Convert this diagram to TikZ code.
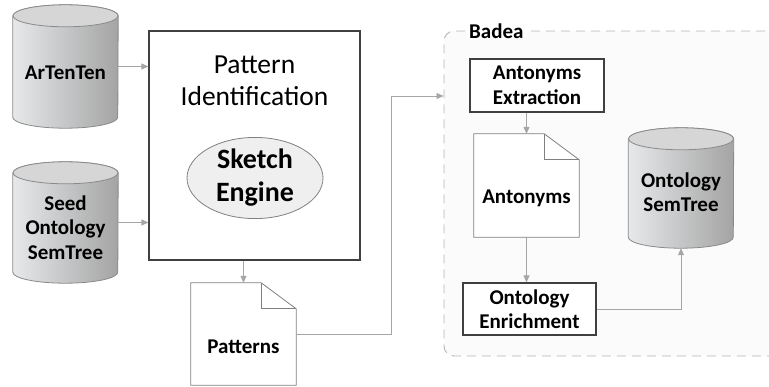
\documentclass[tikz,border=0pt]{standalone}
\usepackage{fontspec}
\setmainfont{Carlito}
\usetikzlibrary{arrows.meta,backgrounds,shapes.geometric}

\definecolor{boxline}{HTML}{404040}
\definecolor{arrowgray}{HTML}{A6A6A6}
\definecolor{dbgray}{HTML}{8A8A8A}
\definecolor{dbleft}{HTML}{E6E8EA}
\definecolor{dbright}{HTML}{A4A4A4}
\definecolor{dbtop}{HTML}{D6D6D6}
\definecolor{docgray}{HTML}{808080}
\definecolor{regiongray}{HTML}{B4B4B4}
\definecolor{regionfill}{HTML}{FBFBFB}
\definecolor{sketchfill}{HTML}{EFEFEF}

\tikzset{
	txt/.style={font=\bfseries\fontsize{21}{24.5}\selectfont, align=center},
	dbnode/.style={minimum width=105pt, minimum height=123pt, inner sep=0pt},
	docnode/.style={minimum width=105pt, minimum height=102pt, inner sep=0pt},
	procbox/.style={txt, draw=boxline, line width=1.2pt, fill=white, inner sep=0pt},
	dbedge/.style={draw=dbgray, line width=0.8pt},
	docedge/.style={draw=docgray, line width=0.8pt},
	region/.style={draw=regiongray, dash pattern=on 9pt off 6pt, line width=0.9pt, rounded corners=10pt, fill=regionfill},
	arr/.style={draw=arrowgray, line width=0.8pt, -{Triangle[length=7pt,width=6pt]}},
}

\newcommand*{\dbshape}[1]{%
	\draw[dbedge, left color=dbleft, right color=dbright]
		([yshift=-11pt]#1.north west) -- ([yshift=11pt]#1.south west)
		arc[start angle=180, end angle=360, x radius=52.5pt, y radius=11pt]
		-- ([yshift=-11pt]#1.north east)
		arc[start angle=0, end angle=180, x radius=52.5pt, y radius=11pt] -- cycle;
	\draw[dbedge, fill=dbtop] ([yshift=-11pt]#1.north) ellipse [x radius=52.5pt, y radius=11pt];
}
\newcommand*{\docshape}[1]{%
	\draw[docedge, fill=white] (#1.north west) -- ([xshift=-35pt]#1.north east)
		-- ([yshift=-26pt]#1.north east) -- (#1.south east) -- (#1.south west) -- cycle;
	\draw[docedge] ([xshift=-35pt]#1.north east) |- ([yshift=-26pt]#1.north east);
}

\begin{document}
\begin{tikzpicture}[x=1pt, y=-1pt]
	\useasboundingbox (0,0) rectangle (769,386);

	% sources
	\node[dbnode, label={[txt,yshift=-6pt]center:ArTenTen}] (art) at (65.5,66.5) {};
	\node[dbnode, minimum height=121pt, label={[txt,yshift=-5pt]center:{Seed\\Ontology\\SemTree}}] (seed) at (65.5,222.5) {};

	% pattern identification
	\node[draw=boxline, line width=1.2pt, minimum width=211pt, minimum height=229pt] (pid) at (254.5,145.5) {};
	\node[font=\fontsize{27.5}{32}\selectfont, align=center] (pidtitle) at (254.5,81) {Pattern\\Identification};
	\node[ellipse, draw=docgray, line width=0.8pt, fill=sketchfill, minimum width=136pt, minimum height=62pt, inner sep=0pt,
		font=\bfseries\fontsize{28}{33}\selectfont, align=center] (sketch) at (255,178) {Sketch\\Engine};
	\node[docnode, label={[txt,yshift=-13pt]center:Patterns}] (pat) at (243.5,334) {};

	% badea
	\node[procbox, minimum width=134pt, minimum height=53pt] (aex) at (537,85.5) {Antonyms\\Extraction};
	\node[docnode, minimum height=103pt, label={[txt,yshift=-13pt]center:Antonyms}] (ant) at (526.5,185.5) {};
	\node[procbox, minimum width=133pt, minimum height=52pt] (enr) at (529.5,309) {Ontology\\Enrichment};
	\node[dbnode, minimum height=120pt, label={[txt,yshift=-4pt]center:{Ontology\\SemTree}}] (sem) at (681,188) {};

	\begin{scope}[on background layer]
		\node[region, minimum width=346pt, minimum height=325pt] (badea) at (617,193.5) {};
		\dbshape{art}
		\dbshape{seed}
		\dbshape{sem}
		\docshape{pat}
		\docshape{ant}
	\end{scope}
	\node[txt, fill=white, inner xsep=3pt, inner ysep=0pt, anchor=west] (badeatitle) at (466,31) {Badea};

	% connectors
	\coordinate (bend) at (391,96);
	\draw[arr] (art.east) -- (art.east -| pid.west);
	\draw[arr] (seed.east) -- (seed.east -| pid.west);
	\draw[arr] (pat.north |- pid.south) -- (pat.north);
	\draw[arr] (pat.east) -| (bend) -- (bend -| badea.west);
	\draw[arr] (aex.south -| ant.north) -- (ant.north);
	\draw[arr] (ant.south) -- (ant.south |- enr.north);
	\draw[arr] (enr.east) -| (sem.south);

\end{tikzpicture}
\end{document}
